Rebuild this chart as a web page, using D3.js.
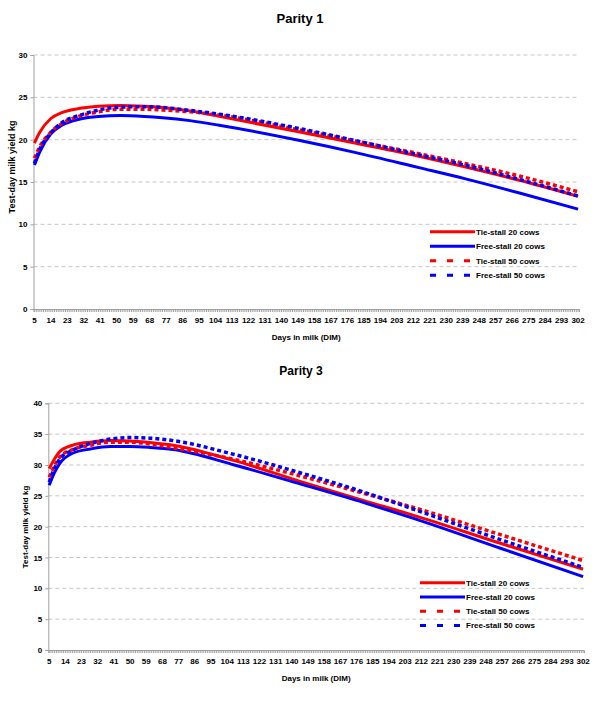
<!DOCTYPE html>
<html>
<head>
<meta charset="utf-8">
<script src="https://cdn.jsdelivr.net/npm/d3@7"></script>
<style>
body { margin: 0; background: #fff; }
svg text { font-family: "Liberation Sans", Arial, sans-serif; font-weight: bold; fill: #000; }
</style>
</head>
<body>
<div id="chart"></div>
<script>
var days_p1   = [5, 8, 14, 20, 30, 40, 52, 65, 75, 90, 106, 150, 180, 215, 240, 270, 302];
var tie20_p1  = [19.6, 20.9, 22.5, 23.2, 23.7, 23.95, 24.05, 23.95, 23.8, 23.4, 22.75, 20.9, 19.6, 18.05, 16.8, 15.2, 13.3];
var free20_p1 = [17.0, 18.6, 20.7, 21.7, 22.45, 22.75, 22.85, 22.75, 22.6, 22.25, 21.7, 19.9, 18.5, 16.7, 15.4, 13.7, 11.8];
var tie50_p1  = [17.8, 19.2, 20.9, 21.9, 22.8, 23.3, 23.6, 23.6, 23.5, 23.3, 22.9, 21.15, 19.85, 18.35, 17.2, 15.7, 13.85];
var free50_p1 = [17.2, 18.9, 20.8, 22.0, 22.9, 23.5, 23.85, 23.9, 23.8, 23.45, 23.0, 21.3, 19.9, 18.2, 17.0, 15.3, 13.35];

var days_p3   = [5, 8, 11, 18, 28, 39, 50, 61, 74, 108, 145, 180, 206, 256, 302];
var tie20_p3  = [29.4, 31.0, 32.2, 33.2, 33.7, 33.95, 33.9, 33.65, 33.2, 30.7, 27.3, 24.2, 22.0, 17.3, 13.1];
var free20_p3 = [26.7, 28.8, 30.3, 31.9, 32.6, 33.0, 33.0, 32.85, 32.5, 30.0, 26.9, 23.9, 21.5, 16.5, 11.9];
var tie50_p3  = [28.0, 29.9, 31.3, 32.5, 33.2, 33.7, 33.7, 33.4, 32.8, 30.9, 28.2, 25.4, 23.25, 18.7, 14.5];
var free50_p3 = [27.2, 29.5, 31.0, 32.4, 33.5, 34.2, 34.45, 34.35, 33.95, 31.7, 28.7, 25.6, 23.0, 17.9, 13.4];

var series_names  = ["Tie-stall 20 cows", "Free-stall 20 cows", "Tie-stall 50 cows", "Free-stall 50 cows"];
var series_colors = ["#ff0000", "#0000ff", "#ff0000", "#0000ff"];
var series_dashed = [false, false, true, true];

// every day from 5 to 302 is a category, a label on every 9th day
var all_days  = d3.range(5, 303);
var tick_days = d3.range(5, 303, 9);

var yticks_p1 = [0, 5, 10, 15, 20, 25, 30];
var yticks_p3 = [0, 5, 10, 15, 20, 25, 30, 35, 40];

var svg = d3.select("#chart")
    .append("svg")
    .attr("width", 600)
    .attr("height", 703);

build_chart(svg, {
    title: "Parity 1", titleX: 300, titleY: 23, titleSize: 13,
    left: 33.5, right: 579, top: 55, bottom: 309,
    ymax: 30, yticks: yticks_p1,
    ytitleX: 15, ytitleY: 167, ytitleSize: 9,
    days: days_p1, series: [tie20_p1, free20_p1, tie50_p1, free50_p1],
    legendX: 430, legendY: 231.7, legendStep: 14.5
});

build_chart(svg, {
    title: "Parity 3", titleX: 301, titleY: 375, titleSize: 12,
    left: 48.3, right: 584, top: 403.3, bottom: 650,
    ymax: 40, yticks: yticks_p3,
    ytitleX: 28, ytitleY: 527, ytitleSize: 8,
    days: days_p3, series: [tie20_p3, free20_p3, tie50_p3, free50_p3],
    legendX: 420, legendY: 582.7, legendStep: 14.3
});

function build_chart(svg, c) {
    var width = c.right - c.left,
        height = c.bottom - c.top;

    // title
    svg.append("text")
        .attr("x", c.titleX)
        .attr("y", c.titleY)
        .attr("text-anchor", "middle")
        .style("font-size", c.titleSize + "px")
        .text(c.title);

    var g = svg.append("g")
        .attr("transform", `translate(${c.left},${c.top})`);

    var xScale = d3.scaleBand()
        .domain(all_days)
        .range([0, width]);
    var xPos = d => xScale(d) + xScale.bandwidth() / 2;

    var yScale = d3.scaleLinear()
        .domain([0, c.ymax])
        .range([height, 0]);

    // dashed gridlines
    g.append("g")
        .selectAll("line")
        .data(c.yticks.filter(d => d > 0))
        .enter()
        .append("line")
        .attr("x1", 0)
        .attr("x2", width)
        .attr("y1", d => yScale(d))
        .attr("y2", d => yScale(d))
        .attr("stroke", "#c6c6c6")
        .attr("stroke-width", 1)
        .attr("stroke-dasharray", "4,3");

    // y axis
    var yAxis = g.append("g")
        .call(d3.axisLeft(yScale).tickValues(c.yticks).tickSize(3).tickPadding(3));
    yAxis.selectAll("text").style("font-size", "8px");

    // x axis, one tick per day
    var xAxis = g.append("g")
        .attr("transform", `translate(0,${height})`)
        .call(d3.axisBottom(xScale)
            .tickSize(3)
            .tickPadding(5)
            .tickFormat(d => tick_days.includes(d) ? d : ""));
    xAxis.selectAll("text").style("font-size", "8px");

    [yAxis, xAxis].forEach(function(a) {
        a.select(".domain").attr("stroke", "#a0a0a0");
        a.selectAll(".tick line").attr("stroke", "#a0a0a0");
    });

    // axis titles
    svg.append("text")
        .attr("x", (c.left + c.right) / 2)
        .attr("y", c.bottom + 30.5)
        .attr("text-anchor", "middle")
        .style("font-size", "8px")
        .text("Days in milk (DIM)");

    svg.append("text")
        .attr("transform", `translate(${c.ytitleX},${c.ytitleY}) rotate(-90)`)
        .attr("text-anchor", "middle")
        .style("font-size", c.ytitleSize + "px")
        .text("Test-day milk yield kg");

    // curves
    var line = d3.line()
        .x(d => xPos(d[0]))
        .y(d => yScale(d[1]))
        .curve(d3.curveMonotoneX);

    c.series.forEach(function(vals, i) {
        g.append("path")
            .datum(c.days.map((d, j) => [d, vals[j]]))
            .attr("fill", "none")
            .attr("stroke", series_colors[i])
            .attr("stroke-width", series_dashed[i] ? 3.5 : 3)
            .attr("stroke-dasharray", series_dashed[i] ? "4,3" : null)
            .attr("d", line);
    });

    // legend
    var legend = svg.append("g")
        .attr("transform", `translate(${c.legendX},${c.legendY})`);

    series_names.forEach(function(name, i) {
        var row = legend.append("g")
            .attr("transform", `translate(0,${i * c.legendStep})`);
        row.append("line")
            .attr("x1", 0)
            .attr("x2", 45)
            .attr("stroke", series_colors[i])
            .attr("stroke-width", 3)
            .attr("stroke-dasharray", series_dashed[i] ? "6,11" : null);
        row.append("text")
            .attr("x", 46)
            .attr("dy", "0.35em")
            .style("font-size", "8px")
            .text(name);
    });
}
</script>
</body>
</html>
